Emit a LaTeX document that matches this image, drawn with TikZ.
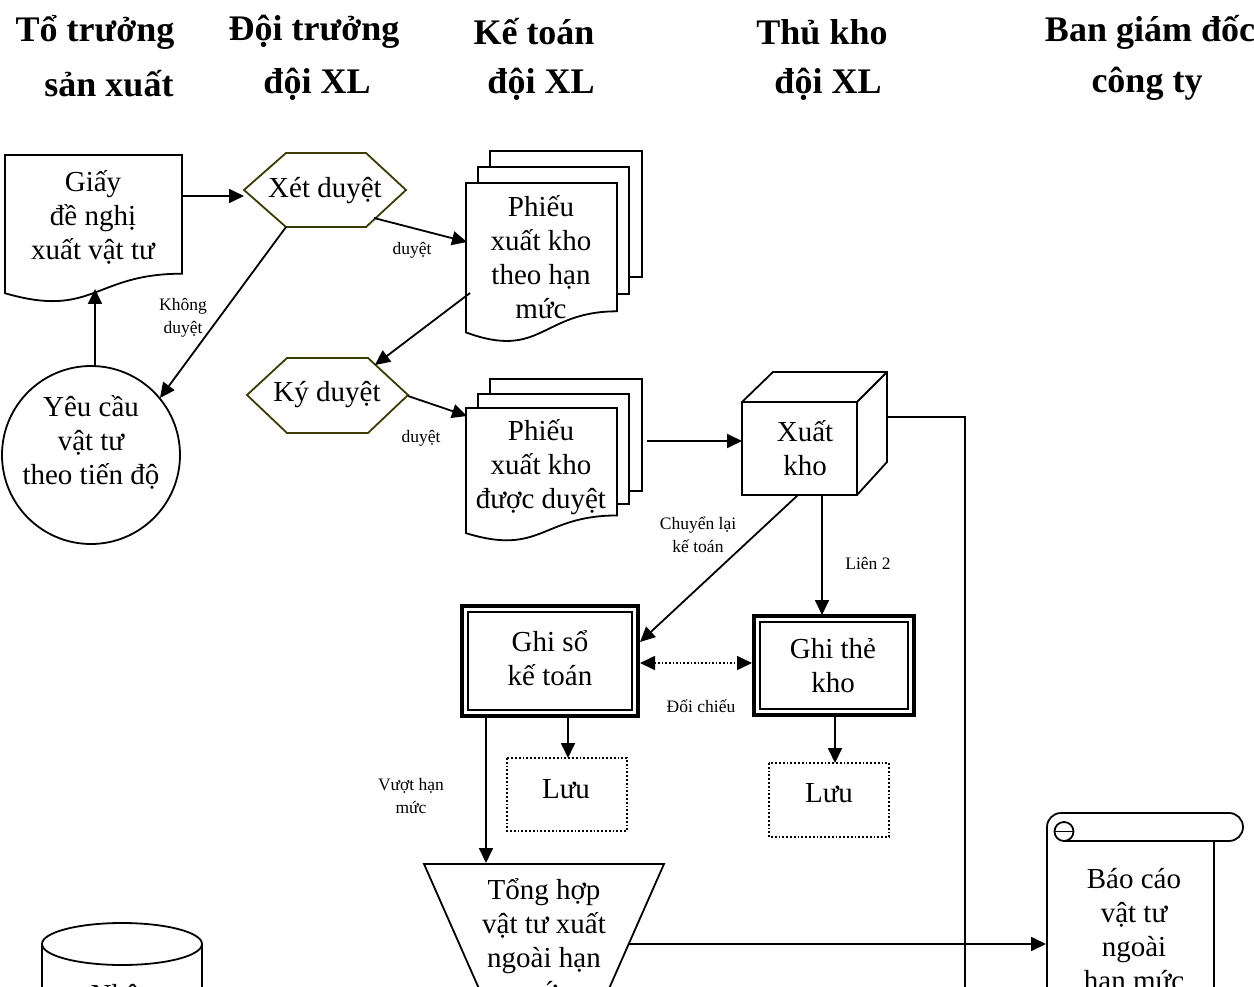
\documentclass[tikz,border=0pt]{standalone}
\usepackage{fontspec}
\setmainfont{Liberation Serif}
\usetikzlibrary{arrows.meta}
\definecolor{hexline}{RGB}{60,60,0}
\tikzset{
  txt/.style={font=\fontsize{29}{34}\selectfont, align=center, inner sep=0pt},
  hdr/.style={font=\fontsize{36}{52}\selectfont\bfseries, inner sep=0pt},
  note/.style={font=\fontsize{17.5}{23}\selectfont, align=center, inner sep=0pt},
  ln/.style={line width=1.8pt, line join=miter},
  arr/.style={ln, -{Triangle[length=15pt,width=14pt]}},
  darr/.style={line width=1.6pt, dotted, {Triangle[length=15pt,width=14pt]}-{Triangle[length=15pt,width=14pt]}},
  shp/.style={ln, fill=white},
  hexa/.style={line width=1.8pt, draw=hexline, fill=white},
  outerbox/.style={line width=3.5pt, fill=white},
  innerbox/.style={line width=1.6pt},
  store/.style={line width=1.8pt, dotted},
}
% document outline with a wavy lower edge: left, top, right, height
\newcommand\docoutline[4]{%
  \draw[shp] (#1,#2) -- (#3,#2) -- (#3,{#2+0.802*#4})
    .. controls ({(#1+#3)/2},{#2+0.802*#4}) and ({(#1+#3)/2},{#2+1.1075*#4})
    .. (#1,{#2+0.934*#4}) -- cycle;}
\begin{document}
\begin{tikzpicture}[x=1pt,y=-1pt]
\useasboundingbox (0,0) rectangle (1254,987);
\clip (0,0) rectangle (1254,987);

% column headings
\node[hdr] (h1a) at (95,32) {Tổ trưởng};
\node[hdr] (h1b) at (109,84) {sản xuất};
\node[hdr] (h2a) at (314,32) {Đội trưởng};
\node[hdr] (h2b) at (317,84) {đội XL};
\node[hdr] (h3a) at (534,32) {Kế toán};
\node[hdr] (h3b) at (541,84) {đội XL};
\node[hdr] (h4a) at (822,32) {Thủ kho};
\node[hdr] (h4b) at (828,84) {đội XL};
\node[hdr] (h5a) at (1150,32) {Ban giám đốc};
\node[hdr] (h5b) at (1147,84) {công ty};

% request form
\docoutline{5}{155}{182}{148}
\node[txt] (giay) at (93,217) {Giấy\\đề nghị\\xuất vật tư};

% approval hexagons
\draw[hexa] (244,190) -- (286,153) -- (366,153) -- (406,190) -- (366,227) -- (286,227) -- cycle;
\node[txt] (xet) at (325,191) {Xét duyệt};
\draw[hexa] (247,395) -- (287,358) -- (368,358) -- (408,395) -- (368,433) -- (287,433) -- cycle;
\node[txt] (ky) at (327,395) {Ký duyệt};

% material request circle
\draw[shp] (91,455) circle[radius=89];
\node[txt] (yeucau) at (91,442) {Yêu cầu\\vật tư\\theo tiến độ};

% stacks of issue slips
\draw[shp] (490,151) rectangle (642,277);
\draw[shp] (478,167) rectangle (629,294);
\docoutline{466}{183}{617}{160}
\node[txt] (phieu1) at (541,257) {Phiếu\\xuất kho\\theo hạn\\mức};

\draw[shp] (490,379) rectangle (642,491);
\draw[shp] (478,394) rectangle (629,504);
\docoutline{466}{408}{617}{134}
\node[txt] (phieu2) at (541,467) {Phiếu\\xuất kho\\được duyệt};

% warehouse cube
\draw[shp] (742,402) -- (773,372) -- (887,372) -- (887,462) -- (857,495) -- (742,495) -- cycle;
\draw[ln] (742,402) -- (857,402) -- (857,495) (857,402) -- (887,372);
\node[txt] (xuat) at (805,448) {Xuất\\kho};

% ledger boxes
\draw[outerbox] (462,606) rectangle (638,716);
\draw[innerbox] (468,612) rectangle (632,710);
\node[txt] (ghiso) at (550,658) {Ghi sổ\\kế toán};
\draw[outerbox] (754,616) rectangle (914,715);
\draw[innerbox] (760,622) rectangle (908,709);
\node[txt] (ghithe) at (833,666) {Ghi thẻ\\kho};

% filing
\draw[store] (507,758) rectangle (627,831);
\node[txt] (luu1) at (566,789) {Lưu};
\draw[store] (769,763) rectangle (889,837);
\node[txt] (luu2) at (829,793) {Lưu};

% summary trapezoid
\draw[shp] (424,864) -- (664,864) -- (604,1000) -- (484,1000) -- cycle;
\node[txt] (tonghop) at (544,940) {Tổng hợp\\vật tư xuất\\ngoài hạn\\mức};

% report scroll
\draw[shp] (1047,1000) -- (1047,827) arc[start angle=180,end angle=270,radius=14]
  -- (1229,813) arc[start angle=-90,end angle=90,radius=14] -- (1214,841) -- (1214,1000) -- cycle;
\draw[ln] (1214,841) -- (1064,841);
\draw[ln] (1064,831.5) circle[radius=9.5];
\draw[ln] (1054.5,831.5) -- (1073.5,831.5);
\node[txt] (baocao) at (1134,932) {Báo cáo\\vật tư\\ngoài\\hạn mức};

% storage cylinder
\draw[shp] (42,944) -- (42,1000) -- (202,1000) -- (202,944);
\draw[shp] (122,944) ellipse[x radius=80,y radius=21];
\node[txt] (nhan) at (122,997) {Nhận};

% connector end points
\coordinate (giay-e) at (182,196);
\coordinate (xet-w) at (244,196);
\coordinate (xet-se) at (374,218);
\coordinate (xet-sw) at (286,227);
\coordinate (p1-w) at (467,242);
\coordinate (p1-sw) at (470,293);
\coordinate (yc-n) at (95,366);
\coordinate (yc-ne) at (160,398);
\coordinate (giay-s) at (95,289);
\coordinate (ky-ne) at (375,365);
\coordinate (ky-e) at (408,396);
\coordinate (p2-w) at (467,416);
\coordinate (p2-e) at (647,441);
\coordinate (xuat-w) at (742,441);
\coordinate (xuat-s1) at (798,495);
\coordinate (xuat-s2) at (822,495);
\coordinate (xuat-e) at (887,417);
\coordinate (rail-top) at (965,417);
\coordinate (rail-end) at (965,1000);
\coordinate (gs-ne) at (640,642);
\coordinate (gs-e) at (640,663);
\coordinate (gt-w) at (752,663);
\coordinate (gt-n) at (822,615);
\coordinate (gs-s1) at (568,717);
\coordinate (gs-s2) at (486,717);
\coordinate (l1-n) at (568,758);
\coordinate (gt-s) at (835,716);
\coordinate (l2-n) at (835,763);
\coordinate (th-n) at (486,863);
\coordinate (th-e) at (629,944);
\coordinate (bc-w) at (1046,944);

% connectors
\draw[arr] (giay-e) -- (xet-w);
\draw[arr] (xet-se) -- (p1-w);
\draw[arr] (xet-sw) -- (yc-ne);
\draw[arr] (yc-n) -- (giay-s);
\draw[arr] (p1-sw) -- (ky-ne);
\draw[arr] (ky-e) -- (p2-w);
\draw[arr] (p2-e) -- (xuat-w);
\draw[arr] (xuat-s1) -- (gs-ne);
\draw[arr] (xuat-s2) -- (gt-n);
\draw[darr] (gs-e) -- (gt-w);
\draw[arr] (gs-s1) -- (l1-n);
\draw[arr] (gt-s) -- (l2-n);
\draw[arr] (gs-s2) -- (th-n);
\draw[ln] (xuat-e) -- (rail-top) -- (rail-end);
\draw[arr] (th-e) -- (bc-w);

% connector labels
\node[note] (n1) at (412,250) {duyệt};
\node[note] (n2) at (183,318) {Không\\duyệt};
\node[note] (n3) at (421,438) {duyệt};
\node[note] (n4) at (698,535) {Chuyển lại\\kế toán};
\node[note] (n5) at (868,563) {Liên 2};
\node[note] (n6) at (701,706) {Đối chiếu};
\node[note] (n7) at (411,796) {Vượt hạn\\mức};
\end{tikzpicture}
\end{document}
